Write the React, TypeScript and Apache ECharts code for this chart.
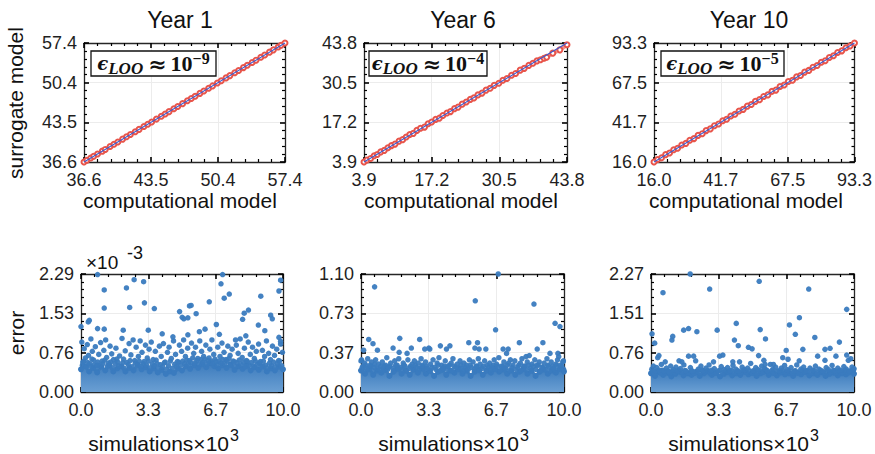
import React, { useEffect, useRef } from "react";
import * as echarts from "echarts";

const FONT = "'Liberation Sans', Arial, Helvetica, sans-serif";

// ---------- tick labels ----------
const year1Ticks = ["36.6", "43.5", "50.4", "57.4"];
const year6Ticks = ["3.9", "17.2", "30.5", "43.8"];
const year10Ticks = ["16.0", "41.7", "67.5", "93.3"];
const simTicks = ["0.0", "3.3", "6.7", "10.0"];
const err1Ticks = ["0.00", "0.76", "1.53", "2.29"];
const err6Ticks = ["0.00", "0.37", "0.73", "1.10"];
const err10Ticks = ["0.00", "0.76", "1.51", "2.27"];

// ---------- axis ranges ----------
const year1Range = [36.6, 57.4];
const year6Range = [3.9, 43.8];
const year10Range = [16.0, 93.3];
const simRange = [0, 10];
const err1Range = [0, 2.29];
const err6Range = [0, 1.1];
const err10Range = [0, 2.27];

const titles = ["Year 1", "Year 6", "Year 10"];
const epsExponents = ["−9", "−4", "−5"];

// ---------- top row: computational vs surrogate ----------
const comp1 = [36.6, 36.9, 37.3, 37.6, 38.0, 38.5, 38.8, 39.3, 39.7, 40.1, 40.6, 41.0, 41.4, 41.9, 42.3, 42.8, 43.2, 43.6, 44.1, 44.6, 45.0, 45.4, 45.9, 46.3, 46.8, 47.3, 47.7, 48.1, 48.6, 49.0, 49.5, 49.9, 50.4, 50.8, 51.3, 51.7, 52.2, 52.6, 53.1, 53.5, 54.0, 54.4, 54.9, 55.3, 55.8, 56.2, 56.7, 57.0, 57.4];
const surr1 = [36.6, 36.9, 37.3, 37.6, 38.0, 38.5, 38.8, 39.3, 39.7, 40.1, 40.6, 41.0, 41.4, 41.9, 42.3, 42.8, 43.2, 43.6, 44.1, 44.6, 45.0, 45.4, 45.9, 46.3, 46.8, 47.3, 47.7, 48.1, 48.6, 49.0, 49.5, 49.9, 50.4, 50.8, 51.3, 51.7, 52.2, 52.6, 53.1, 53.5, 54.0, 54.4, 54.9, 55.3, 55.8, 56.2, 56.7, 57.0, 57.4];

const comp6 = [3.9, 4.5, 5.2, 5.9, 6.5, 7.2, 7.9, 8.6, 9.3, 10.0, 10.8, 11.5, 12.2, 12.9, 13.6, 14.3, 15.0, 15.8, 16.5, 17.2, 18.0, 18.7, 19.4, 20.2, 20.9, 21.7, 22.4, 23.2, 24.0, 24.8, 25.5, 26.3, 27.1, 27.9, 28.7, 29.5, 30.4, 31.2, 32.0, 32.9, 33.7, 34.6, 35.4, 36.3, 37.1, 37.9, 38.6, 39.3, 39.8, 41.0, 42.4, 43.8];
const surr6 = [3.9, 4.6, 5.1, 6.0, 6.4, 7.3, 7.8, 8.7, 9.4, 9.9, 10.9, 11.4, 12.3, 13.1, 13.5, 14.5, 15.2, 15.6, 16.7, 17.3, 18.2, 18.6, 19.5, 20.3, 20.8, 21.8, 22.3, 23.3, 24.0, 24.9, 25.4, 26.4, 27.0, 28.0, 28.6, 29.6, 30.3, 31.3, 31.9, 33.0, 33.6, 34.7, 35.3, 36.3, 37.0, 37.8, 38.2, 38.7, 39.0, 40.4, 41.5, 43.2];

const comp10 = [16.0, 17.4, 18.9, 20.5, 22.0, 23.6, 25.1, 26.7, 28.3, 29.8, 31.4, 33.0, 34.6, 36.1, 37.7, 39.3, 40.9, 42.5, 44.0, 45.6, 47.2, 48.8, 50.4, 52.0, 53.5, 55.1, 56.7, 58.3, 59.9, 61.5, 63.0, 64.6, 66.2, 67.8, 69.4, 71.0, 72.5, 74.1, 75.7, 77.3, 78.9, 80.5, 82.0, 83.6, 85.2, 86.8, 88.4, 90.0, 91.6, 93.3];
const surr10 = [16.0, 17.6, 18.7, 20.8, 21.8, 23.9, 24.9, 27.0, 28.1, 30.1, 31.2, 33.3, 34.4, 36.4, 37.5, 39.6, 40.7, 42.8, 43.8, 45.9, 47.0, 49.1, 50.2, 52.3, 53.3, 55.4, 56.5, 58.6, 59.6, 61.9, 62.7, 65.0, 66.0, 68.3, 69.1, 71.3, 72.2, 74.4, 75.5, 77.6, 78.7, 80.8, 81.8, 83.9, 85.0, 87.1, 88.2, 90.2, 91.4, 93.3];

// ---------- bottom row: errors (x10^-3) vs simulations (x10^3) ----------
// upper edge of the dense band of points
const band1 = [[0, 0.44], [0.2, 0.5], [0.4, 0.4], [0.6, 0.47], [0.8, 0.38], [1.0, 0.49], [1.2, 0.42], [1.4, 0.52], [1.6, 0.4], [1.8, 0.46], [2.0, 0.5], [2.2, 0.4], [2.4, 0.47], [2.6, 0.42], [2.8, 0.53], [3.0, 0.44], [3.2, 0.48], [3.4, 0.4], [3.6, 0.46], [3.8, 0.38], [4.0, 0.43], [4.2, 0.35], [4.4, 0.4], [4.6, 0.37], [4.8, 0.46], [5.0, 0.42], [5.2, 0.5], [5.4, 0.45], [5.6, 0.52], [5.8, 0.47], [6.0, 0.54], [6.2, 0.48], [6.4, 0.56], [6.6, 0.5], [6.8, 0.46], [7.0, 0.52], [7.2, 0.47], [7.4, 0.54], [7.6, 0.43], [7.8, 0.5], [8.0, 0.45], [8.2, 0.52], [8.4, 0.42], [8.6, 0.48], [8.8, 0.43], [9.0, 0.5], [9.2, 0.4], [9.4, 0.46], [9.6, 0.42], [9.8, 0.49], [10.0, 0.44]];
const band6 = [[0, 0.2], [0.2, 0.17], [0.4, 0.22], [0.6, 0.16], [0.8, 0.2], [1.0, 0.18], [1.2, 0.21], [1.4, 0.15], [1.6, 0.19], [1.8, 0.22], [2.0, 0.17], [2.2, 0.2], [2.4, 0.16], [2.6, 0.21], [2.8, 0.18], [3.0, 0.22], [3.2, 0.17], [3.4, 0.2], [3.6, 0.15], [3.8, 0.19], [4.0, 0.21], [4.2, 0.16], [4.4, 0.2], [4.6, 0.18], [4.8, 0.22], [5.0, 0.17], [5.2, 0.2], [5.4, 0.15], [5.6, 0.19], [5.8, 0.21], [6.0, 0.16], [6.2, 0.2], [6.4, 0.18], [6.6, 0.22], [6.8, 0.19], [7.0, 0.21], [7.2, 0.17], [7.4, 0.2], [7.6, 0.16], [7.8, 0.19], [8.0, 0.22], [8.2, 0.17], [8.4, 0.2], [8.6, 0.15], [8.8, 0.19], [9.0, 0.21], [9.2, 0.17], [9.4, 0.2], [9.6, 0.18], [9.8, 0.22], [10.0, 0.19]];
const band10 = [[0, 0.36], [0.2, 0.31], [0.4, 0.38], [0.6, 0.33], [0.8, 0.37], [1.0, 0.3], [1.2, 0.35], [1.4, 0.39], [1.6, 0.32], [1.8, 0.36], [2.0, 0.33], [2.2, 0.38], [2.4, 0.31], [2.6, 0.36], [2.8, 0.4], [3.0, 0.33], [3.2, 0.37], [3.4, 0.3], [3.6, 0.35], [3.8, 0.38], [4.0, 0.32], [4.2, 0.36], [4.4, 0.33], [4.6, 0.39], [4.8, 0.34], [5.0, 0.37], [5.2, 0.31], [5.4, 0.36], [5.6, 0.4], [5.8, 0.33], [6.0, 0.37], [6.2, 0.32], [6.4, 0.38], [6.6, 0.34], [6.8, 0.36], [7.0, 0.31], [7.2, 0.37], [7.4, 0.34], [7.6, 0.39], [7.8, 0.32], [8.0, 0.36], [8.2, 0.33], [8.4, 0.38], [8.6, 0.31], [8.8, 0.35], [9.0, 0.37], [9.2, 0.32], [9.4, 0.36], [9.6, 0.34], [9.8, 0.39], [10.0, 0.35]];

// points just above the band
const near1 = [[0.07, 0.52], [0.15, 0.6], [0.27, 0.49], [0.34, 0.57], [0.47, 0.5], [0.54, 0.64], [0.66, 0.53], [0.74, 0.46], [0.83, 0.58], [0.92, 0.51], [1.08, 0.55], [1.18, 0.62], [1.31, 0.5], [1.47, 0.58], [1.57, 0.47], [1.69, 0.55], [1.77, 0.64], [1.87, 0.51], [2.07, 0.57], [2.14, 0.46], [2.34, 0.53], [2.43, 0.61], [2.53, 0.49], [2.69, 0.56], [2.88, 0.6], [2.97, 0.5], [3.08, 0.55], [3.24, 0.52], [3.33, 0.6], [3.44, 0.47], [3.53, 0.55], [3.64, 0.51], [3.72, 0.62], [3.84, 0.46], [3.93, 0.53], [4.04, 0.49], [4.13, 0.57], [4.24, 0.44], [4.33, 0.51], [4.42, 0.6], [4.53, 0.46], [4.64, 0.54], [4.73, 0.5], [4.84, 0.58], [4.94, 0.52], [5.04, 0.6], [5.13, 0.55], [5.24, 0.62], [5.33, 0.53], [5.43, 0.57], [5.53, 0.66], [5.64, 0.56], [5.74, 0.61], [5.84, 0.54], [5.93, 0.63], [6.03, 0.58], [6.13, 0.64], [6.23, 0.55], [6.34, 0.66], [6.44, 0.6], [6.53, 0.56], [6.63, 0.64], [6.73, 0.53], [6.83, 0.6], [6.93, 0.56], [7.03, 0.63], [7.13, 0.55], [7.23, 0.6], [7.33, 0.65], [7.43, 0.52], [7.53, 0.6], [7.63, 0.5], [7.73, 0.57], [7.83, 0.62], [7.93, 0.53], [8.03, 0.58], [8.13, 0.49], [8.23, 0.6], [8.33, 0.52], [8.43, 0.57], [8.53, 0.5], [8.63, 0.6], [8.73, 0.53], [8.83, 0.56], [8.93, 0.49], [9.03, 0.6], [9.13, 0.52], [9.23, 0.47], [9.33, 0.56], [9.43, 0.51], [9.53, 0.58], [9.63, 0.49], [9.73, 0.55], [9.83, 0.6], [9.93, 0.51]];
const near6 = [[0.06, 0.23], [0.15, 0.2], [0.23, 0.25], [0.38, 0.21], [0.49, 0.24], [0.57, 0.2], [0.68, 0.26], [0.79, 0.22], [0.97, 0.24], [1.09, 0.2], [1.21, 0.25], [1.31, 0.21], [1.42, 0.24], [1.62, 0.2], [1.71, 0.25], [1.83, 0.22], [2.02, 0.21], [2.12, 0.25], [2.25, 0.2], [2.44, 0.24], [2.57, 0.21], [2.68, 0.25], [2.88, 0.22], [3.01, 0.25], [3.12, 0.21], [3.22, 0.24], [3.37, 0.2], [3.49, 0.23], [3.69, 0.21], [3.8, 0.25], [3.92, 0.2], [4.1, 0.24], [4.24, 0.21], [4.36, 0.25], [4.48, 0.2], [4.6, 0.24], [4.79, 0.21], [4.92, 0.25], [5.02, 0.2], [5.14, 0.23], [5.28, 0.21], [5.38, 0.25], [5.58, 0.21], [5.71, 0.24], [5.82, 0.2], [6.03, 0.24], [6.16, 0.2], [6.28, 0.23], [6.4, 0.21], [6.51, 0.25], [6.62, 0.21], [6.73, 0.24], [6.86, 0.2], [6.99, 0.24], [7.08, 0.21], [7.21, 0.25], [7.32, 0.2], [7.44, 0.23], [7.63, 0.21], [7.77, 0.25], [7.89, 0.2], [8.02, 0.24], [8.13, 0.21], [8.25, 0.25], [8.38, 0.2], [8.5, 0.24], [8.61, 0.21], [8.73, 0.25], [8.85, 0.2], [8.97, 0.23], [9.09, 0.21], [9.2, 0.25], [9.32, 0.2], [9.43, 0.24], [9.54, 0.21], [9.64, 0.25], [9.78, 0.21], [9.89, 0.24], [9.98, 0.21]];
const near10 = [[0.08, 0.39], [0.17, 0.36], [0.33, 0.41], [0.47, 0.37], [0.57, 0.42], [0.7, 0.38], [0.83, 0.41], [0.93, 0.36], [1.05, 0.4], [1.17, 0.37], [1.37, 0.42], [1.52, 0.38], [1.66, 0.41], [1.84, 0.37], [1.99, 0.41], [2.13, 0.36], [2.27, 0.4], [2.41, 0.37], [2.52, 0.42], [2.65, 0.38], [2.79, 0.41], [2.92, 0.36], [3.05, 0.4], [3.19, 0.37], [3.38, 0.42], [3.53, 0.37], [3.68, 0.41], [3.83, 0.38], [3.96, 0.42], [4.11, 0.37], [4.25, 0.41], [4.41, 0.37], [4.55, 0.42], [4.69, 0.38], [4.84, 0.41], [4.98, 0.37], [5.1, 0.4], [5.21, 0.36], [5.36, 0.41], [5.52, 0.38], [5.66, 0.43], [5.8, 0.37], [5.95, 0.41], [6.07, 0.36], [6.22, 0.4], [6.37, 0.37], [6.5, 0.42], [6.64, 0.38], [6.79, 0.41], [6.97, 0.37], [7.11, 0.41], [7.25, 0.37], [7.45, 0.42], [7.58, 0.38], [7.72, 0.41], [7.9, 0.37], [8.04, 0.41], [8.18, 0.37], [8.35, 0.42], [8.52, 0.37], [8.68, 0.41], [8.83, 0.38], [8.98, 0.42], [9.12, 0.37], [9.27, 0.41], [9.42, 0.38], [9.56, 0.42], [9.71, 0.37], [9.85, 0.41], [9.95, 0.38]];

// scattered points higher above the band
const mid1 = [[0.04, 0.97], [0.09, 0.58], [0.16, 0.84], [0.22, 0.66], [0.31, 0.92], [0.37, 0.71], [0.43, 0.55], [0.49, 1.03], [0.56, 0.79], [0.63, 0.62], [0.71, 0.88], [0.79, 0.52], [0.88, 0.73], [0.97, 0.96], [1.04, 0.6], [1.13, 0.81], [1.22, 1.01], [1.27, 0.67], [1.36, 0.56], [1.44, 0.89], [1.52, 0.74], [1.61, 0.63], [1.73, 0.85], [1.82, 0.58], [1.91, 0.7], [2.03, 1.04], [2.11, 0.64], [2.19, 0.8], [2.27, 0.57], [2.38, 0.94], [2.47, 0.72], [2.58, 1.01], [2.66, 0.61], [2.73, 0.87], [2.84, 0.69], [2.93, 0.99], [3.02, 0.77], [3.12, 0.59], [3.19, 0.91], [3.28, 0.66], [3.37, 0.83], [3.48, 0.97], [3.57, 0.63], [3.68, 0.79], [3.77, 0.55], [3.88, 0.89], [3.97, 0.69], [4.08, 0.94], [4.17, 0.58], [4.28, 0.77], [4.36, 0.87], [4.47, 0.65], [4.58, 0.99], [4.68, 0.73], [4.77, 0.59], [4.87, 0.91], [4.98, 0.79], [5.08, 1.01], [5.17, 0.69], [5.28, 0.85], [5.36, 0.61], [5.47, 0.95], [5.58, 0.75], [5.67, 0.87], [5.78, 0.65], [5.88, 0.99], [5.97, 0.79], [6.07, 0.69], [6.18, 0.91], [6.28, 0.61], [6.38, 0.83], [6.48, 1.01], [6.57, 0.73], [6.68, 0.59], [6.77, 0.87], [6.88, 0.69], [6.98, 0.95], [7.08, 0.77], [7.18, 0.63], [7.27, 0.89], [7.38, 0.71], [7.48, 0.83], [7.58, 0.59], [7.69, 0.91], [7.78, 0.75], [7.88, 1.03], [7.98, 0.67], [8.09, 0.85], [8.18, 0.61], [8.28, 0.97], [8.38, 0.73], [8.49, 0.87], [8.58, 0.65], [8.68, 0.79], [8.79, 0.93], [8.88, 0.59], [8.98, 0.81], [9.09, 0.69], [9.18, 0.99], [9.29, 0.75], [9.38, 0.63], [9.48, 0.89], [9.58, 0.71], [9.69, 0.83], [9.78, 0.61], [9.88, 0.93], [9.97, 0.77]];
const mid6 = [[0.03, 0.3], [0.11, 0.24], [0.18, 0.27], [0.26, 0.22], [0.33, 0.31], [0.45, 0.25], [0.52, 0.28], [0.64, 0.23], [0.72, 0.3], [0.86, 0.26], [0.93, 0.21], [1.05, 0.28], [1.14, 0.24], [1.27, 0.32], [1.35, 0.23], [1.46, 0.27], [1.57, 0.22], [1.66, 0.29], [1.78, 0.25], [1.86, 0.31], [1.97, 0.23], [2.08, 0.27], [2.17, 0.24], [2.31, 0.3], [2.39, 0.22], [2.52, 0.26], [2.63, 0.29], [2.74, 0.23], [2.82, 0.27], [2.96, 0.31], [3.05, 0.24], [3.18, 0.28], [3.26, 0.22], [3.43, 0.26], [3.55, 0.3], [3.63, 0.23], [3.75, 0.27], [3.84, 0.32], [3.97, 0.25], [4.06, 0.22], [4.15, 0.29], [4.28, 0.24], [4.44, 0.27], [4.53, 0.31], [4.66, 0.23], [4.74, 0.26], [4.88, 0.29], [4.97, 0.22], [5.07, 0.27], [5.19, 0.25], [5.34, 0.3], [5.43, 0.23], [5.52, 0.28], [5.67, 0.24], [5.78, 0.31], [5.87, 0.26], [5.96, 0.22], [6.09, 0.29], [6.22, 0.25], [6.34, 0.27], [6.45, 0.23], [6.56, 0.3], [6.68, 0.26], [6.79, 0.32], [6.92, 0.24], [7.04, 0.28], [7.12, 0.22], [7.27, 0.27], [7.36, 0.3], [7.49, 0.25], [7.58, 0.29], [7.72, 0.23], [7.85, 0.27], [7.93, 0.31], [8.07, 0.24], [8.19, 0.28], [8.34, 0.22], [8.42, 0.26], [8.56, 0.3], [8.67, 0.25], [8.78, 0.28], [8.91, 0.23], [9.02, 0.27], [9.16, 0.31], [9.24, 0.24], [9.37, 0.28], [9.48, 0.22], [9.59, 0.26], [9.68, 0.3], [9.83, 0.25], [9.94, 0.28]];
const mid10 = [[0.04, 0.44], [0.12, 0.5], [0.21, 0.4], [0.28, 0.47], [0.42, 0.42], [0.51, 0.53], [0.63, 0.41], [0.76, 0.46], [0.88, 0.39], [0.97, 0.5], [1.11, 0.43], [1.23, 0.48], [1.31, 0.4], [1.45, 0.45], [1.62, 0.52], [1.71, 0.41], [1.94, 0.47], [2.05, 0.4], [2.33, 0.44], [2.46, 0.5], [2.58, 0.41], [2.71, 0.46], [2.86, 0.52], [2.98, 0.42], [3.12, 0.45], [3.31, 0.4], [3.46, 0.49], [3.6, 0.43], [3.77, 0.47], [3.89, 0.41], [4.04, 0.51], [4.18, 0.44], [4.33, 0.4], [4.49, 0.48], [4.62, 0.43], [4.76, 0.46], [4.91, 0.55], [5.04, 0.41], [5.16, 0.47], [5.26, 0.43], [5.45, 0.5], [5.59, 0.45], [5.73, 0.41], [5.88, 0.53], [6.01, 0.44], [6.14, 0.48], [6.31, 0.41], [6.42, 0.46], [6.58, 0.51], [6.71, 0.43], [6.9, 0.47], [7.05, 0.4], [7.18, 0.52], [7.38, 0.44], [7.52, 0.48], [7.64, 0.41], [7.83, 0.46], [7.97, 0.42], [8.1, 0.5], [8.27, 0.44], [8.45, 0.4], [8.63, 0.47], [8.74, 0.43], [8.92, 0.51], [9.05, 0.41], [9.2, 0.46], [9.34, 0.42], [9.5, 0.49], [9.62, 0.44], [9.77, 0.4], [9.9, 0.48], [9.98, 0.43]];

// isolated large errors
const out1 = [[0.82, 2.28], [1.15, 1.98], [1.15, 1.63], [2.25, 2.02], [2.63, 2.18], [3.1, 2.14], [2.41, 1.64], [3.14, 1.73], [3.63, 1.62], [7.01, 2.28], [6.93, 2.1], [7.09, 1.82], [7.34, 1.9], [6.35, 1.75], [8.9, 1.86], [8.29, 1.59], [8.08, 1.53], [8.0, 1.41], [9.8, 1.96], [9.88, 2.17], [4.88, 1.56], [5.01, 1.45], [5.09, 1.42], [5.37, 1.67], [5.45, 1.68], [5.7, 1.52], [5.29, 1.44], [6.7, 1.31], [8.78, 1.3], [9.1, 1.19], [9.39, 1.49], [9.47, 1.42], [0.0, 1.27], [0.36, 1.36], [0.41, 1.39], [0.82, 1.23], [1.15, 1.22], [2.09, 1.2], [3.33, 1.2], [4.02, 1.13], [4.55, 1.07], [5.29, 1.11], [5.86, 1.17], [6.14, 1.22], [6.85, 1.12], [7.65, 1.01], [8.16, 1.09], [9.8, 1.06], [9.88, 0.98]];
const out6 = [[0.67, 0.98], [5.63, 0.85], [6.76, 1.1], [6.63, 0.58], [8.52, 0.82], [9.56, 0.64], [9.8, 0.61], [0.38, 0.49], [0.59, 0.45], [0.13, 0.39], [0.81, 0.39], [1.91, 0.5], [1.58, 0.41], [1.88, 0.37], [2.48, 0.41], [2.27, 0.36], [2.89, 0.49], [3.14, 0.4], [3.34, 0.41], [3.39, 0.4], [3.91, 0.43], [4.21, 0.4], [4.38, 0.43], [5.31, 0.46], [5.74, 0.46], [5.61, 0.41], [5.82, 0.4], [6.15, 0.4], [7.0, 0.4], [7.25, 0.4], [7.17, 0.36], [7.8, 0.46], [8.96, 0.46], [8.68, 0.4], [8.13, 0.33], [8.29, 0.34], [9.31, 0.36], [9.7, 0.36], [9.74, 0.33], [9.97, 0.29], [0.0, 0.29]];
const out10 = [[1.93, 2.27], [5.33, 2.13], [2.89, 1.98], [7.77, 1.98], [0.59, 1.91], [9.64, 1.59], [0.05, 1.12], [0.18, 0.94], [1.07, 1.07], [1.03, 1.0], [1.61, 1.19], [1.85, 1.22], [2.26, 1.16], [3.26, 1.19], [4.2, 1.32], [4.11, 1.0], [4.3, 0.89], [5.38, 1.2], [5.64, 1.02], [6.82, 1.29], [7.11, 1.11], [7.31, 1.43], [7.48, 0.82], [8.07, 1.05], [8.57, 0.82], [8.82, 0.84], [9.28, 0.96], [4.8, 0.86], [4.98, 0.83], [6.66, 0.8], [1.85, 0.69], [2.1, 0.69], [2.2, 0.6], [0.33, 0.66], [0.39, 0.7], [0.7, 0.58], [1.38, 0.6], [1.52, 0.58], [3.08, 0.58], [3.38, 0.69], [3.54, 0.71], [4.03, 0.58], [4.36, 0.58], [5.3, 0.7], [5.56, 0.61], [5.62, 0.53], [6.03, 0.53], [6.49, 0.66], [6.75, 0.63], [7.3, 0.6], [8.21, 0.69], [8.57, 0.61], [9.11, 0.69], [9.64, 0.71], [9.72, 0.61], [9.84, 0.64], [10.0, 0.45]];

// ---------- layout ----------
const grids = [
  { left: 84, top: 43, width: 201, height: 119 },
  { left: 364, top: 43, width: 203, height: 119 },
  { left: 654, top: 43, width: 203, height: 119 },
  { left: 81, top: 274, width: 202, height: 118 },
  { left: 361, top: 274, width: 203, height: 118 },
  { left: 651, top: 274, width: 203, height: 118 },
];
const titleX = [180, 463, 749];
const xNameX = [180, 461, 746];
const epsBoxes = [
  { x: 91, w: 125 },
  { x: 369, w: 118 },
  { x: 661, w: 123 },
];
const simLabelEnd = [229, 519, 809];

const RED = "#e8554b";
const BLUE_LINE = "#3b5bd0";
const DOT = "#3a7bbf";

function zip(a: number[], b: number[]) {
  return a.map((v, i) => [v, b[i]]);
}

function tickAxis(g: number, pos: string, labels: string[], main: boolean, isX: boolean) {
  return {
    type: "value",
    gridIndex: g,
    position: pos,
    min: 0,
    max: 3,
    interval: 1,
    axisLine: { show: true, onZero: false, lineStyle: { color: "#262626", width: 1.3 } },
    axisTick: { show: true, inside: true, length: 5, lineStyle: { color: "#000", width: 1.6 } },
    minorTick: { show: true, splitNumber: 5, length: 3, lineStyle: { color: "#000", width: 1.2 } },
    axisLabel: {
      show: main,
      formatter: (v: number) => labels[Math.round(v)],
      fontSize: 18,
      fontFamily: FONT,
      color: "#1f1f1f",
      margin: isX ? 9 : 7,
    },
    splitLine: { show: main, lineStyle: { color: "#ececec", width: 1 } },
  };
}

function dataAxis(g: number, range: number[]) {
  return { type: "value", gridIndex: g, min: range[0], max: range[1], show: false };
}

function buildOption() {
  const panels = [
    { xr: year1Range, yr: year1Range, xl: year1Ticks, yl: year1Ticks },
    { xr: year6Range, yr: year6Range, xl: year6Ticks, yl: year6Ticks },
    { xr: year10Range, yr: year10Range, xl: year10Ticks, yl: year10Ticks },
    { xr: simRange, yr: err1Range, xl: simTicks, yl: err1Ticks },
    { xr: simRange, yr: err6Range, xl: simTicks, yl: err6Ticks },
    { xr: simRange, yr: err10Range, xl: simTicks, yl: err10Ticks },
  ];
  const xAxis: any[] = [];
  const yAxis: any[] = [];
  panels.forEach((p, g) => {
    xAxis.push(dataAxis(g, p.xr), tickAxis(g, "bottom", p.xl, true, true), tickAxis(g, "top", p.xl, false, true));
    yAxis.push(dataAxis(g, p.yr), tickAxis(g, "left", p.yl, true, false), tickAxis(g, "right", p.yl, false, false));
  });

  const series: any[] = [];
  const tops = [
    { c: comp1, s: surr1, r: year1Range },
    { c: comp6, s: surr6, r: year6Range },
    { c: comp10, s: surr10, r: year10Range },
  ];
  tops.forEach((t, g) => {
    series.push({
      type: "line",
      xAxisIndex: 3 * g,
      yAxisIndex: 3 * g,
      data: zip(t.c, t.s),
      symbol: "emptyCircle",
      symbolSize: 5,
      showAllSymbol: true,
      lineStyle: { color: "rgba(232,85,75,0.65)", width: 4 },
      itemStyle: { color: RED, borderColor: RED, borderWidth: 1 },
      clip: false,
      z: 2,
    });
    series.push({
      type: "line",
      xAxisIndex: 3 * g,
      yAxisIndex: 3 * g,
      data: [[t.r[0], t.r[0]], [t.r[1], t.r[1]]],
      symbol: "none",
      lineStyle: { color: BLUE_LINE, width: 1.1 },
      clip: false,
      z: 3,
    });
  });

  const bottoms = [
    { band: band1, pts: near1.concat(mid1, out1) },
    { band: band6, pts: near6.concat(mid6, out6) },
    { band: band10, pts: near10.concat(mid10, out10) },
  ];
  bottoms.forEach((b, i) => {
    const g = i + 3;
    series.push({
      type: "line",
      xAxisIndex: 3 * g,
      yAxisIndex: 3 * g,
      data: b.band,
      symbol: "circle",
      symbolSize: 6,
      showAllSymbol: true,
      itemStyle: { color: DOT },
      lineStyle: { width: 3, color: "#3f7dbd" },
      areaStyle: {
        opacity: 1,
        color: new echarts.graphic.LinearGradient(0, 0, 0, 1, [
          { offset: 0, color: "#3c7bbd" },
          { offset: 1, color: "#6a9fd3" },
        ]),
      },
      z: 1,
    });
    series.push({
      type: "scatter",
      xAxisIndex: 3 * g,
      yAxisIndex: 3 * g,
      data: b.pts,
      symbolSize: 5.5,
      itemStyle: { color: DOT, opacity: 0.95 },
      clip: false,
      z: 2,
    });
  });

  const graphic: any[] = [];
  const txt = (text: string, x: number, y: number, size: number, align = "center", rot = 0, valign = "middle") => ({
    type: "text",
    x,
    y,
    rotation: rot,
    z: 100,
    style: {
      text,
      fontSize: size,
      fontFamily: FONT,
      fill: "#111",
      align,
      verticalAlign: valign,
      textAlign: align,
      textVerticalAlign: valign,
    },
  });
  titles.forEach((t, i) => graphic.push(txt(t, titleX[i], 20, 23)));
  xNameX.forEach((x) => graphic.push(txt("computational model", x, 200, 21)));
  graphic.push(txt("surrogate model", 15.5, 103, 21, "center", Math.PI / 2));
  graphic.push(txt("error", 16.5, 333, 21, "center", Math.PI / 2));
  simLabelEnd.forEach((x) => {
    graphic.push(txt("simulations×10", x, 443, 21, "right"));
    graphic.push(txt("3", x + 1, 435, 16, "left"));
  });
  graphic.push(txt("×10", 86, 262, 19, "left"));
  graphic.push(txt("-3", 127, 253, 18, "left"));

  epsBoxes.forEach((b, i) => {
    graphic.push({
      type: "rect",
      z: 100,
      shape: { x: b.x, y: 51, width: b.w, height: 25 },
      style: { fill: "#fff", stroke: "#111", lineWidth: 1.3 },
    });
    graphic.push({
      type: "text",
      z: 101,
      x: b.x + b.w / 2,
      y: 63.5,
      style: {
        text: "{e|ϵ}{s|LOO}{a|≈}{m|10}{p|" + epsExponents[i] + "}",
        align: "center",
        verticalAlign: "middle",
        textAlign: "center",
        textVerticalAlign: "middle",
        fill: "#111",
        rich: {
          e: { fontFamily: "'DejaVu Serif'", fontStyle: "italic", fontWeight: "bold", fontSize: 18, lineHeight: 26, fill: "#111" },
          s: { fontFamily: "'Liberation Serif'", fontStyle: "italic", fontWeight: "bold", fontSize: 17, lineHeight: 17, verticalAlign: "bottom", fill: "#111" },
          a: { fontFamily: "'DejaVu Serif'", fontWeight: "bold", fontSize: 22, lineHeight: 26, padding: [0, 4, 0, 5], fill: "#111" },
          m: { fontFamily: "'Liberation Serif'", fontWeight: "bold", fontSize: 22, lineHeight: 26, fill: "#111" },
          p: { fontFamily: "'Liberation Serif'", fontWeight: "bold", fontSize: 16, lineHeight: 16, verticalAlign: "top", fill: "#111" },
        },
      },
    });
  });

  return {
    animation: false,
    backgroundColor: "#fff",
    grid: grids.map((g) => ({ ...g, containLabel: false })),
    xAxis,
    yAxis,
    series,
    graphic,
  };
}

export default function App() {
  const ref = useRef<HTMLDivElement>(null);
  useEffect(() => {
    const chart = echarts.init(ref.current!, null, { renderer: "svg" });
    chart.setOption(buildOption() as any);
    return () => chart.dispose();
  }, []);
  return (
    <div
      ref={ref}
      style={{ position: "absolute", left: 0, top: 0, width: 875, height: 454, background: "#fff" }}
    />
  );
}
